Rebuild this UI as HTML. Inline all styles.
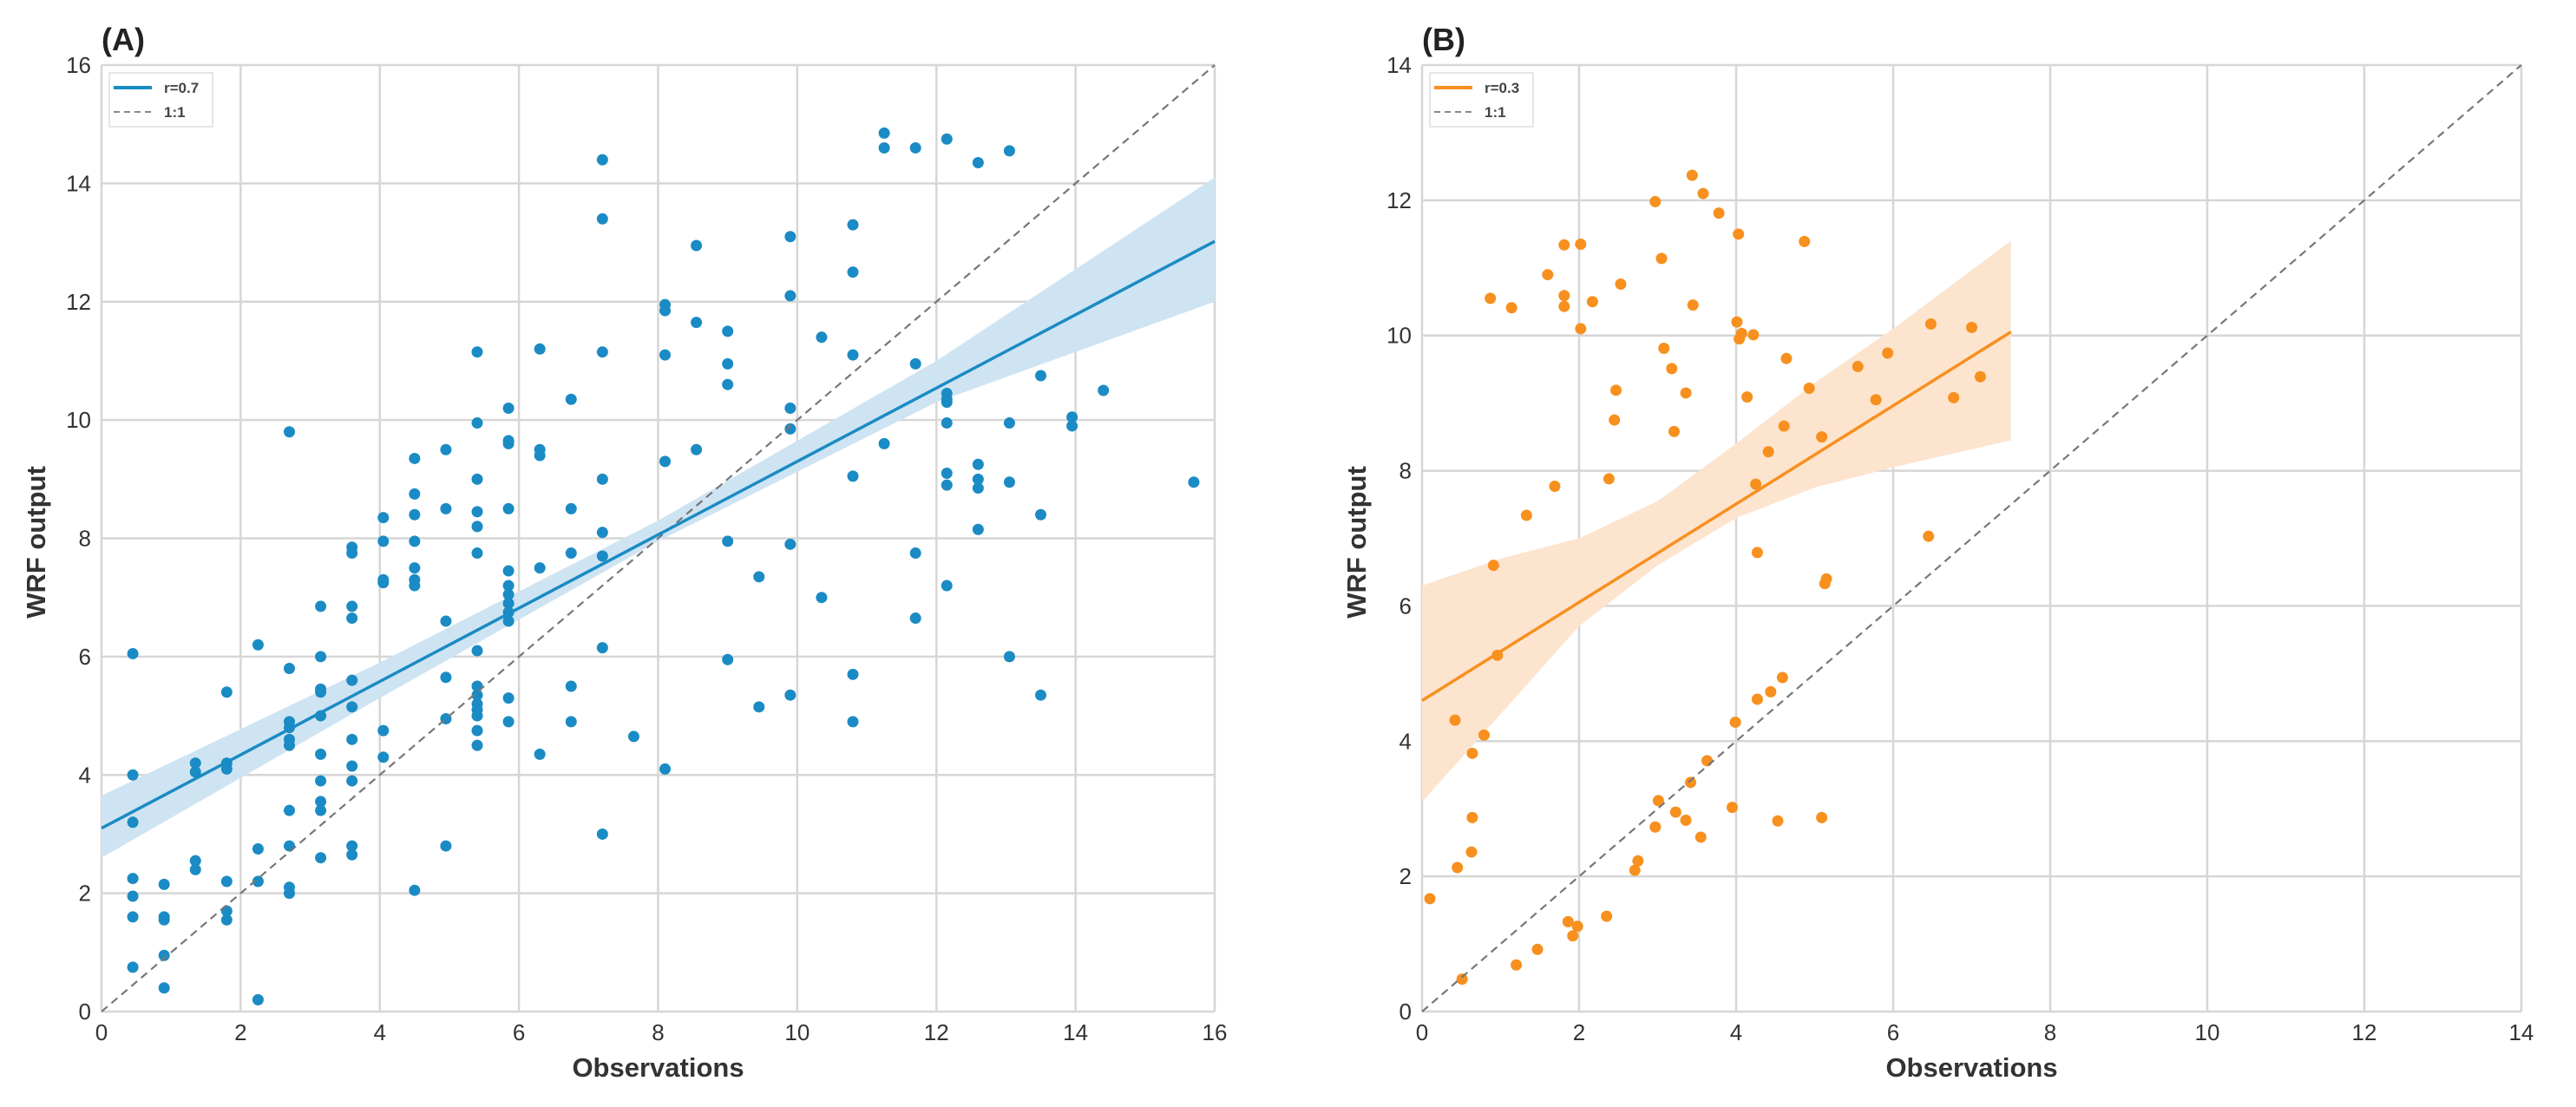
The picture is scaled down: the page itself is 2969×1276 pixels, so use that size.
<!DOCTYPE html>
<html><head><meta charset="utf-8">
<style>
html,body{margin:0;padding:0;background:#fff;}
svg{display:block;font-family:"Liberation Sans",Arial,sans-serif;}
</style></head>
<body>
<svg id="fig" width="2969" height="1276" viewBox="0 0 2969 1276" xmlns="http://www.w3.org/2000/svg"></svg>
<script>
// Panel A data
const aX = [0.45,0.45,0.45,0.45,0.45,0.45,0.45, 0.9,0.9,0.9,0.9,0.9, 1.35,1.35,1.35,1.35, 1.8,1.8,1.8,1.8,1.8,1.8, 2.25,2.25,2.25,2.25,
 2.7,2.7,2.7,2.7,2.7,2.7,2.7,2.7,2.7,2.7, 3.15,3.15,3.15,3.15,3.15,3.15,3.15,3.15,3.15,3.15,
 3.6,3.6,3.6,3.6,3.6,3.6,3.6,3.6,3.6,3.6,3.6, 4.05,4.05,4.05,4.05,4.05,4.05, 4.5,4.5,4.5,4.5,4.5,4.5,4.5,4.5,
 4.95,4.95,4.95,4.95,4.95,4.95, 5.4,5.4,5.4,5.4,5.4,5.4,5.4,5.4,5.4,5.4,5.4,5.4,5.4,5.4,
 5.85,5.85,5.85,5.85,5.85,5.85,5.85,5.85,5.85,5.85,5.85,5.85, 6.3,6.3,6.3,6.3,6.3, 6.75,6.75,6.75,6.75,6.75,
 7.2,7.2,7.2,7.2,7.2,7.2,7.2,7.2, 7.65, 8.1,8.1,8.1,8.1,8.1, 8.55,8.55,8.55, 9.0,9.0,9.0,9.0,9.0, 9.45,9.45,
 9.9,9.9,9.9,9.9,9.9,9.9, 10.35,10.35, 10.8,10.8,10.8,10.8,10.8,10.8, 11.25,11.25,11.25, 11.7,11.7,11.7,11.7,
 12.15,12.15,12.15,12.15,12.15,12.15,12.15,12.15, 12.6,12.6,12.6,12.6,12.6, 13.05,13.05,13.05,13.05,
 13.5,13.5,13.5, 13.95,13.95, 14.4, 15.7];
const aY = [6.05,4.0,3.2,2.25,1.95,1.6,0.75, 2.15,1.6,1.55,0.95,0.4, 4.2,4.05,2.55,2.4, 5.4,4.2,4.1,2.2,1.7,1.55, 6.2,2.75,2.2,0.2,
 9.8,5.8,4.9,4.8,4.6,4.5,3.4,2.8,2.1,2.0, 6.85,6.0,5.45,5.4,5.0,4.35,3.9,3.55,3.4,2.6,
 7.85,7.75,6.85,6.65,5.6,5.15,4.6,4.15,3.9,2.8,2.65, 8.35,7.95,7.3,7.25,4.75,4.3, 9.35,8.75,8.4,7.95,7.5,7.3,7.2,2.05,
 9.5,8.5,6.6,5.65,4.95,2.8, 11.15,9.95,9.0,8.45,8.2,7.75,6.1,5.5,5.35,5.2,5.1,5.0,4.75,4.5,
 10.2,9.65,9.6,8.5,7.45,7.2,7.05,6.9,6.75,6.6,5.3,4.9, 11.2,9.5,9.4,7.5,4.35, 10.35,8.5,7.75,5.5,4.9,
 14.4,13.4,11.15,9.0,8.1,7.7,6.15,3.0, 4.65, 11.95,11.85,11.1,9.3,4.1, 12.95,11.65,9.5, 11.5,10.95,10.6,7.95,5.95, 7.35,5.15,
 13.1,12.1,10.2,9.85,7.9,5.35, 11.4,7.0, 13.3,12.5,11.1,9.05,5.7,4.9, 14.85,14.6,9.6, 14.6,10.95,7.75,6.65,
 14.75,10.45,10.35,10.3,9.95,9.1,8.9,7.2, 14.35,9.25,9.0,8.85,8.15, 14.55,9.95,8.95,6.0,
 10.75,8.4,5.35, 10.05,9.9, 10.5, 8.95];
const aFit = [3.1, 0.62];           // intercept, slope
const aFitRange = [0, 16];
const aBandX = [0, 4, 8, 12, 16];
const aBandLo = [2.6, 5.3, 7.95, 10.3, 12.0];
const aBandHi = [3.65, 5.9, 8.3, 11.0, 14.1];
const aTicks = [0,2,4,6,8,10,12,14,16];

// Panel B data
const bX = [0.1,0.42,0.45,0.51,0.63,0.64,0.64,0.79,0.87,0.91,0.96,1.14,1.2,1.33,1.47,1.6,1.69,1.81,1.81,1.81,1.86,1.92,1.98,2.02,2.02,2.17,
 2.35,2.38,2.45,2.47,2.53,2.71,2.75,2.97,2.97,3.01,3.05,3.08,3.18,3.21,3.23,3.36,3.36,3.42,3.44,3.45,3.55,3.58,3.63,3.78,
 3.95,3.99,4.01,4.03,4.04,4.07,4.14,4.22,4.25,4.27,4.27,4.41,4.44,4.53,4.59,4.61,4.64,4.87,4.93,5.09,5.09,5.13,5.15,
 5.55,5.78,5.93,6.45,6.48,6.77,7.0,7.11];
const bY = [1.67,4.31,2.13,0.48,2.36,2.87,3.82,4.09,10.55,6.6,5.27,10.41,0.69,7.34,0.92,10.9,7.77,11.34,10.59,10.43,1.33,1.12,1.26,11.35,10.1,10.5,
 1.41,7.88,8.75,9.19,10.76,2.09,2.23,11.98,2.73,3.12,11.14,9.81,9.51,8.58,2.95,9.15,2.83,3.39,12.37,10.45,2.58,12.1,3.71,11.81,
 3.02,4.28,10.2,11.5,9.95,10.03,9.09,10.01,7.8,6.79,4.62,8.28,4.73,2.82,4.94,8.66,9.66,11.39,9.22,8.5,2.87,6.33,6.4,
 9.54,9.05,9.74,7.03,10.17,9.08,10.12,9.39];
const bFit = [4.6, 0.727];
const bFitRange = [0, 7.5];
const bBandX = [0, 1, 2, 3, 4, 5, 6, 7.5];
const bBandLo = [3.1, 4.4, 5.7, 6.6, 7.3, 7.75, 8.05, 8.45];
const bBandHi = [6.3, 6.7, 7.0, 7.55, 8.4, 9.3, 10.1, 11.4];
const bTicks = [0,2,4,6,8,10,12,14];

const NS = "http://www.w3.org/2000/svg";
const svg = document.getElementById('fig');
function mk(tag, attrs, parent){
  const e = document.createElementNS(NS, tag);
  for (const k in attrs) e.setAttribute(k, attrs[k]);
  (parent||svg).appendChild(e);
  return e;
}

function panel(cfg){
  const g = mk('g', {});
  
  
  const sx = v => cfg.x0 + (v - 0) / cfg.max * (cfg.x1 - cfg.x0);
  const sy = v => cfg.y0 - (v - 0) / cfg.max * (cfg.y0 - cfg.y1);

  // grid
  cfg.ticks.forEach(t => {
    const gl = mk('line', {x1:sx(t), x2:sx(t), y1:cfg.y1, y2:cfg.y0, stroke:'#d6d6d6', 'stroke-width':2.5}, g);
    
    
    const hl = mk('line', {x1:cfg.x0, x2:cfg.x1, y1:sy(t), y2:sy(t), stroke:'#d6d6d6', 'stroke-width':2.5}, g);
    
    
    const xt = mk('text', {x:sx(t), y:cfg.y0+33, 'text-anchor':'middle', 'font-size':26, fill:'#333'}, g);
    xt.textContent = t;
    
    
    const yt = mk('text', {x:cfg.x0-12, y:sy(t)+9, 'text-anchor':'end', 'font-size':26, fill:'#333'}, g);
    yt.textContent = t;
    
    
  });

  // band
  let d = '';
  cfg.bandX.forEach((x,i) => { d += (i?'L':'M') + sx(x) + ',' + sy(cfg.bandHi[i]); });
  for (let i = cfg.bandX.length-1; i >= 0; i--) d += 'L' + sx(cfg.bandX[i]) + ',' + sy(cfg.bandLo[i]);
  const band = mk('path', {d:d+'Z', fill:cfg.band, stroke:'none'}, g);
  
  

  // points
  cfg.xs.forEach((x,i) => {
    const c = mk('circle', {cx:sx(x), cy:sy(cfg.ys[i]), r:6.5, fill:cfg.color}, g);
    
    
  });

  // 1:1 line
  const one = mk('line', {x1:sx(0), y1:sy(0), x2:sx(cfg.max), y2:sy(cfg.max), stroke:'#777', 'stroke-width':2.2, 'stroke-dasharray':'9,6'}, g);
  
  

  // fit line
  const fr = cfg.fitRange;
  const fl = mk('line', {x1:sx(fr[0]), y1:sy(cfg.fit[0]+cfg.fit[1]*fr[0]), x2:sx(fr[1]), y2:sy(cfg.fit[0]+cfg.fit[1]*fr[1]), stroke:cfg.color, 'stroke-width':3.5}, g);
  
  

  // legend
  const lg = mk('g', {}, g);
  
  
  mk('rect', {x:cfg.x0+9, y:84, width:119, height:62, fill:'#fff', stroke:'#ddd', 'stroke-width':1.5}, lg);
  mk('line', {x1:cfg.x0+14, x2:cfg.x0+58, y1:101, y2:101, stroke:cfg.color, 'stroke-width':4}, lg);
  mk('line', {x1:cfg.x0+14, x2:cfg.x0+58, y1:129, y2:129, stroke:'#888', 'stroke-width':2, 'stroke-dasharray':'7,5'}, lg);
  const l1 = mk('text', {x:cfg.x0+72, y:107, 'font-size':17, fill:'#444', 'font-weight':'bold'}, lg);
  l1.textContent = cfg.label;
  
  
  const l2 = mk('text', {x:cfg.x0+72, y:135, 'font-size':17, fill:'#444', 'font-weight':'bold'}, lg);
  l2.textContent = '1:1';
  
  

  // titles
  const pt = mk('text', {x:cfg.x0, y:58, 'font-size':36, 'font-weight':'bold', fill:'#222'}, g);
  pt.textContent = cfg.title;
  
  
  const xa = mk('text', {x:(cfg.x0+cfg.x1)/2, y:1241, 'text-anchor':'middle', 'font-size':31, 'font-weight':'bold', fill:'#333'}, g);
  xa.textContent = 'Observations';
  
  
  const ya = mk('text', {x:0, y:0, 'text-anchor':'middle', 'font-size':31, 'font-weight':'bold', fill:'#333', transform:'translate('+(cfg.x0-65)+',625) rotate(-90)'}, g);
  ya.textContent = 'WRF output';
  
  
}

panel({id:'a', title:'(A)', label:'r=0.7', x0:117, x1:1400, y0:1166, y1:75, max:16, ticks:aTicks,
  xs:aX, ys:aY, fit:aFit, fitRange:aFitRange, bandX:aBandX, bandLo:aBandLo, bandHi:aBandHi,
  color:'#1a8bc4', band:'#cfe4f2'});
panel({id:'b', title:'(B)', label:'r=0.3', x0:1639, x1:2906, y0:1166, y1:75, max:14, ticks:bTicks,
  xs:bX, ys:bY, fit:bFit, fitRange:bFitRange, bandX:bBandX, bandLo:bBandLo, bandHi:bBandHi,
  color:'#f7901e', band:'#fde4cf'});
</script>
</body></html>
